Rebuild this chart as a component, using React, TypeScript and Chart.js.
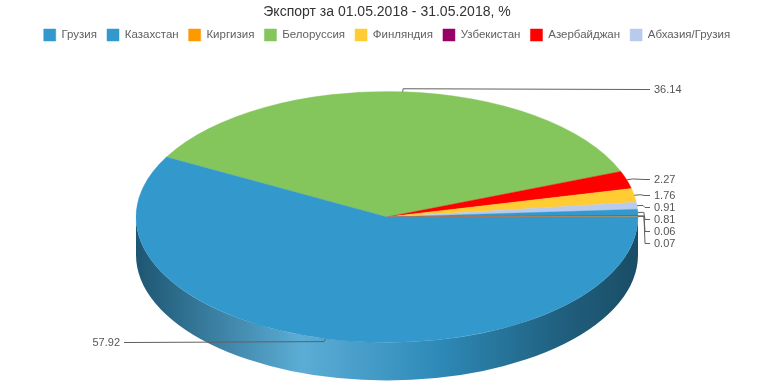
import React, { useEffect, useRef } from 'react';
import { Chart, registerables } from 'chart.js';

Chart.register(...registerables);

const TITLE = 'Экспорт за 01.05.2018 - 31.05.2018, %';
// legend order as in the reference
const legendOrder = ['Грузия', 'Казахстан', 'Киргизия', 'Белоруссия', 'Финляндия', 'Узбекистан', 'Азербайджан', 'Абхазия/Грузия'];
// slices in drawing order (clockwise)
const categories = ['Белоруссия', 'Азербайджан', 'Финляндия', 'Абхазия/Грузия', 'Грузия', 'Узбекистан', 'Киргизия', 'Казахстан'];
const values = [36.14, 2.27, 1.76, 0.91, 0.81, 0.06, 0.07, 57.92];
const colors = ['#84c55c', '#ff0000', '#ffcc33', '#b8cbee', '#3399cc', '#990066', '#ff9900', '#3399cc'];

const TILT = 0.5;
const DEPTH = 38;
const FONT = '"Liberation Sans", Arial, sans-serif';

function toRgb(hex: string) {
  const h = hex.replace('#', '');
  return [parseInt(h.slice(0, 2), 16), parseInt(h.slice(2, 4), 16), parseInt(h.slice(4, 6), 16)];
}
function mul(hex: string, m: number) {
  const [r, g, b] = toRgb(hex);
  return `rgb(${Math.round(r * m)},${Math.round(g * m)},${Math.round(b * m)})`;
}
function tint(hex: string, t: number) {
  const [r, g, b] = toRgb(hex);
  return `rgb(${Math.round(r + (255 - r) * t)},${Math.round(g + (255 - g) * t)},${Math.round(b + (255 - b) * t)})`;
}

let pushed = false;
const pie3d = {
  id: 'pie3d',
  beforeDatasetsDraw(chart: any) {
    const arcs = chart.getDatasetMeta(0).data;
    pushed = false;
    if (!arcs.length) return;
    const ctx = chart.ctx;
    const cx = arcs[0].x, cy = arcs[0].y, R = arcs[0].outerRadius;
    const ry = R * TILT;
    arcs.forEach((arc: any, i: number) => {
      const base = colors[i];
      for (let k = -1; k <= 1; k++) {
        const a0 = Math.max(arc.startAngle + k * 2 * Math.PI, 0);
        const a1 = Math.min(arc.endAngle + k * 2 * Math.PI, Math.PI);
        if (a1 <= a0) continue;
        const g = ctx.createLinearGradient(cx - R, 0, cx + R, 0);
        g.addColorStop(0, mul(base, 0.56));
        g.addColorStop(0.33, tint(base, 0.2));
        g.addColorStop(0.6, mul(base, 0.9));
        g.addColorStop(0.85, mul(base, 0.62));
        g.addColorStop(1, mul(base, 0.5));
        ctx.save();
        ctx.beginPath();
        ctx.ellipse(cx, cy, R, ry, 0, a0, a1, false);
        ctx.lineTo(cx + R * Math.cos(a1), cy + ry * Math.sin(a1) + DEPTH);
        ctx.ellipse(cx, cy + DEPTH, R, ry, 0, a1, a0, true);
        ctx.closePath();
        ctx.fillStyle = g;
        ctx.fill();
        ctx.restore();
      }
    });
    ctx.save();
    ctx.translate(cx, cy);
    ctx.scale(1, TILT);
    ctx.translate(-cx, -cy);
    pushed = true;
  },
  afterDatasetsDraw(chart: any) {
    if (pushed) chart.ctx.restore();
    pushed = false;
  },
  afterDraw(chart: any) {
    const arcs = chart.getDatasetMeta(0).data;
    if (!arcs.length) return;
    const ctx = chart.ctx;
    const cx = arcs[0].x, cy = arcs[0].y, R = arcs[0].outerRadius;
    const items = arcs.map((arc: any, i: number) => {
      const mid = (arc.startAngle + arc.endAngle) / 2;
      const c = Math.cos(mid), s = Math.sin(mid);
      return {
        text: values[i].toFixed(2),
        right: c >= 0,
        ax: cx + R * c, ay: cy + R * TILT * s,
        ex: cx + (R + 6) * c, ey: cy + (R + 6) * TILT * s,
        ly: cy + (R + 6) * TILT * s,
      };
    });
    [true, false].forEach((side) => {
      const grp = items.filter((it: any) => it.right === side).sort((a: any, b: any) => a.ly - b.ly);
      for (let j = 1; j < grp.length; j++) {
        if (grp[j].ly < grp[j - 1].ly + 12) grp[j].ly = grp[j - 1].ly + 12;
      }
    });
    ctx.save();
    ctx.strokeStyle = '#606060';
    ctx.lineWidth = 1;
    ctx.fillStyle = '#555555';
    ctx.font = `11px ${FONT}`;
    ctx.textBaseline = 'middle';
    items.forEach((it: any) => {
      const dir = it.right ? 1 : -1;
      const endX = cx + dir * (R + 12);
      const ly = Math.round(it.ly) + 0.5;
      ctx.beginPath();
      ctx.moveTo(it.ax, it.ay);
      ctx.lineTo(it.ex, it.ey);
      ctx.lineTo(endX - dir * 5, ly);
      ctx.lineTo(endX, ly);
      ctx.stroke();
      ctx.textAlign = it.right ? 'left' : 'right';
      ctx.fillText(it.text, endX + dir * 4, ly);
    });
    ctx.restore();
  },
};

export default function App() {
  const ref = useRef<HTMLCanvasElement>(null);
  useEffect(() => {
    document.body.style.margin = '0';
    const chart = new Chart(ref.current!, {
      type: 'pie',
      data: {
        labels: categories,
        datasets: [{
          data: values,
          backgroundColor: colors,
          borderColor: colors,
          borderWidth: 0.5,
          clip: false as any,
        }],
      },
      options: {
        responsive: false,
        animation: false,
        rotation: -61.5,
        radius: 251,
        layout: { padding: { top: 0, bottom: 4, left: 0, right: 0 } },
        plugins: {
          tooltip: { enabled: false },
          title: {
            display: true,
            text: TITLE,
            color: '#333333',
            font: { family: FONT, size: 14, weight: 'normal', lineHeight: 1 },
            padding: { top: 5, bottom: 0 },
          },
          legend: {
            display: true,
            position: 'top',
            labels: {
              color: '#606060',
              font: { family: FONT, size: 11.5 },
              boxWidth: 12,
              boxHeight: 12,
              padding: 10,
              sort: (a: any, b: any) => legendOrder.indexOf(a.text) - legendOrder.indexOf(b.text),
            },
          },
        },
      } as any,
      plugins: [pie3d],
    });
    return () => chart.destroy();
  }, []);
  return (
    <div style={{ position: 'absolute', left: 0, top: 0, width: 774, height: 387, background: '#fff' }}>
      <canvas ref={ref} width={774} height={387} />
    </div>
  );
}
